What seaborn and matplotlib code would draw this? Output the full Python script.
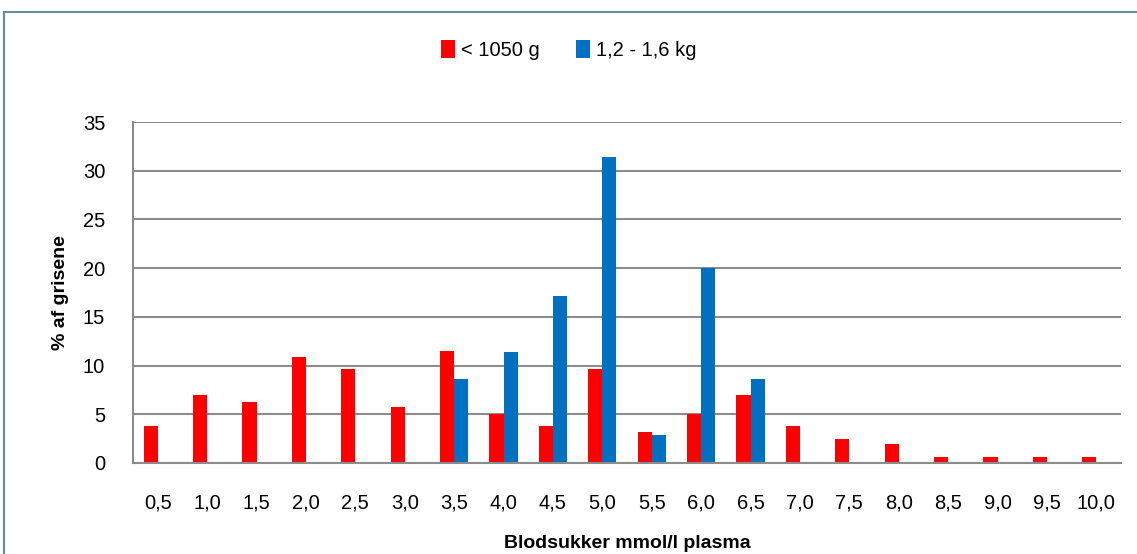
import numpy as np
import pandas as pd
import seaborn as sns
import matplotlib.pyplot as plt
from matplotlib.lines import Line2D

categories = ["0,5", "1,0", "1,5", "2,0", "2,5", "3,0", "3,5", "4,0", "4,5", "5,0",
              "5,5", "6,0", "6,5", "7,0", "7,5", "8,0", "8,5", "9,0", "9,5", "10,0"]
light = [3.8, 7.0, 6.3, 10.9, 9.6, 5.7, 11.5, 5.0, 3.8, 9.6,
         3.2, 5.0, 7.0, 3.8, 2.5, 1.9, 0.6, 0.6, 0.6, 0.6]
heavy = [0, 0, 0, 0, 0, 0, 8.6, 11.4, 17.1, 31.4,
         2.9, 20.0, 8.6, 0, 0, 0, 0, 0, 0, 0]
series = ["< 1050 g", "1,2 - 1,6 kg"]
colors = ["#ff0000", "#0070c0"]

df = pd.DataFrame({
    "kat": categories * 2,
    "pct": light + heavy,
    "gruppe": [series[0]] * len(categories) + [series[1]] * len(categories),
})

sns.set_style("white")
plt.rcParams["font.family"] = ["Liberation Sans Narrow", "Liberation Sans", "DejaVu Sans"]
plt.rcParams["text.color"] = "black"
plt.rcParams["axes.labelcolor"] = "black"
plt.rcParams["xtick.color"] = "black"
plt.rcParams["ytick.color"] = "black"

fig = plt.figure(figsize=(11.37, 5.54), dpi=100)
ax = fig.add_axes([133 / 1137, 1 - 463 / 554, 988 / 1137, 341 / 554])

sns.barplot(data=df, x="kat", y="pct", hue="gruppe", palette=colors, saturation=1,
            width=0.57, linewidth=0, ax=ax, legend=True)

ax.set_ylim(0, 35)
ax.set_xlim(-0.5, len(categories) - 0.5)
ax.set_yticks(range(0, 36, 5))
ax.yaxis.grid(True, color="#8c8c8c", linewidth=1.5)
ax.set_axisbelow(True)
for s in ["top", "right"]:
    ax.spines[s].set_visible(False)
for s in ["left", "bottom"]:
    ax.spines[s].set_color("#8c8c8c")
    ax.spines[s].set_linewidth(1.5)
ax.tick_params(axis="x", labelsize=14.5, pad=22, length=0)
ax.tick_params(axis="y", labelsize=14.5, pad=20, length=0)
ax.set_xlabel("Blodsukker mmol/l plasma", fontsize=14, fontweight="bold", labelpad=16)
ax.set_ylabel("% af grisene", fontsize=14, fontweight="bold", labelpad=10)

leg = ax.legend(loc="center", bbox_to_anchor=(0.5, (554 - 50) / 554), bbox_transform=fig.transFigure,
                ncol=2, frameon=False, fontsize=14.5, handlelength=0.7, handleheight=1.0,
                handletextpad=0.3, columnspacing=1.8)
leg.set_title(None)

# outer chart frame
fig.add_artist(Line2D([4 / 1137, 4 / 1137], [0, 1 - 12 / 554], color="#6e8b99", linewidth=1.5,
                      transform=fig.transFigure))
fig.add_artist(Line2D([4 / 1137, 1], [1 - 12 / 554, 1 - 12 / 554], color="#6e8b99", linewidth=1.5,
                      transform=fig.transFigure))

fig.savefig("out.png", dpi=100)
